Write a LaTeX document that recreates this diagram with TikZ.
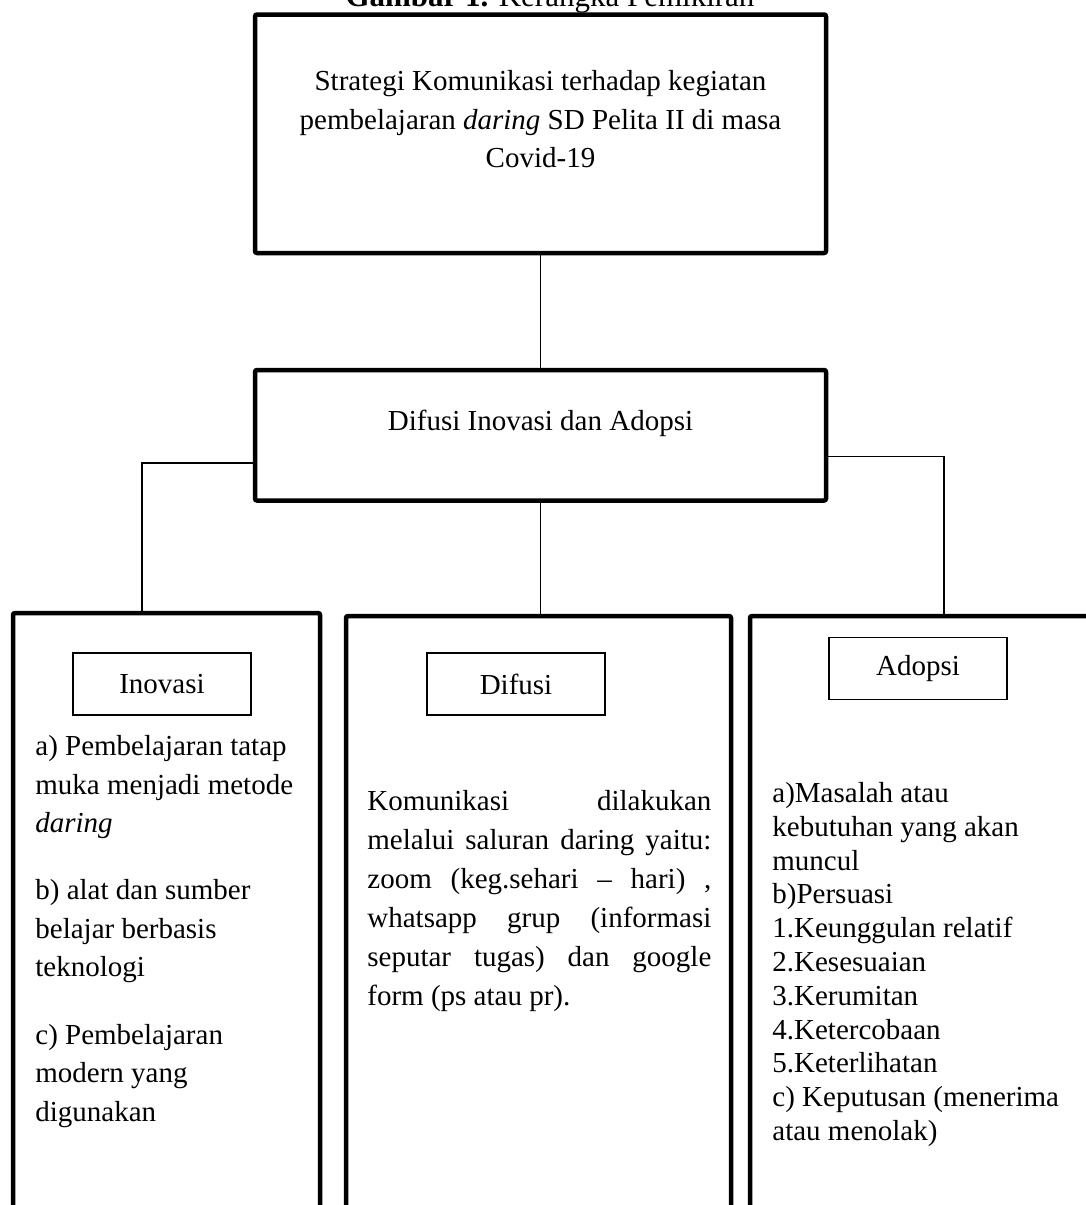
\documentclass[tikz,border=0pt]{standalone}
\usepackage{fontspec}
\setmainfont{Liberation Serif}

\begin{document}
\begin{tikzpicture}[x=0.5pt, y=-0.5pt,
  font=\fontsize{14.5}{19.25}\selectfont,
  bigbox/.style={draw, line width=2.25pt, rounded corners=1pt, inner sep=0pt},
  labelbox/.style={draw, line width=0.6pt, minimum width=89pt, minimum height=31pt, inner sep=0pt},
  wire/.style={line width=0.7pt},
  bodytext/.style={anchor=base west, inner sep=0pt, align=left}]

\useasboundingbox (0,0) rectangle (1086,1205);
\clip (0,0) rectangle (1086,1205);

\node[anchor=base, inner sep=0pt, font=\fontsize{15.5}{18}\selectfont] (title) at (550,6.5) {\textbf{Gambar 1.} Kerangka Pemikiran};

\node[bigbox, minimum width=285.5pt, minimum height=119.25pt, align=center, text height=48.5pt, text depth=14.75pt] (strategi) at (540.5,133.75) {Strategi Komunikasi terhadap kegiatan\\ pembelajaran \textit{daring} SD Pelita II di masa\\ Covid-19};

\node[bigbox, minimum width=285.5pt, minimum height=65.25pt, text height=9.9pt, text depth=15.15pt] (difinov) at (540.5,435.25) {Difusi Inovasi dan Adopsi};

% kolom bawah
\node[bigbox, minimum width=153.5pt, minimum height=343.5pt] (inovasi) at (166.5,956.5) {};
\node[bigbox, minimum width=192.5pt, minimum height=342pt] (difusi) at (538.5,958) {};
\node[bigbox, minimum width=200pt, minimum height=342pt] (adopsi) at (950,958) {};

\node[labelbox] (inovasititle) at (162,684) {Inovasi};
\node[labelbox] (difusititle) at (516,684) {Difusi};
\node[labelbox] (adopsititle) at (918,668.5) {Adopsi};

\coordinate (lknee) at (142,463);
\coordinate (rknee) at (944,456.5);

\draw[wire] (strategi) -- (difinov);
\draw[wire] (difinov.west |- lknee) -- (lknee) -- (lknee |- inovasi.north);
\draw[wire] (difinov.east |- rknee) -- (rknee) -- (rknee |- adopsi.north);
\draw[wire] (difinov.south) -- (difinov.south |- difusi.north);

% isi kolom (base = baris terakhir)
\node[bodytext] (inovasitext) at (35,1121) {a) Pembelajaran tatap\\ muka menjadi metode\\ \textit{daring}\\[14.35pt] b) alat dan sumber\\ belajar berbasis\\ teknologi\\[14.35pt] c) Pembelajaran\\ modern yang\\ digunakan};

\node[bodytext, font=\fontsize{14.5}{19.45}\selectfont] (difusitext) at (367,1005) {\makebox[172pt][s]{Komunikasi dilakukan}\\ \makebox[172pt][s]{melalui saluran daring yaitu:}\\ \makebox[172pt][s]{zoom (keg.sehari – hari) ,}\\ \makebox[172pt][s]{whatsapp grup (informasi}\\ \makebox[172pt][s]{seputar tugas) dan google}\\ form (ps atau pr).};

\node[bodytext, font=\fontsize{14.5}{16.9}\selectfont] (adopsitext) at (772,1140.5) {a)Masalah atau\\ kebutuhan yang akan\\ muncul\\ b)Persuasi\\ 1.Keunggulan relatif\\ 2.Kesesuaian\\ 3.Kerumitan\\ 4.Ketercobaan\\ 5.Keterlihatan\\ c) Keputusan (menerima\\ atau menolak)};

\end{tikzpicture}
\end{document}
